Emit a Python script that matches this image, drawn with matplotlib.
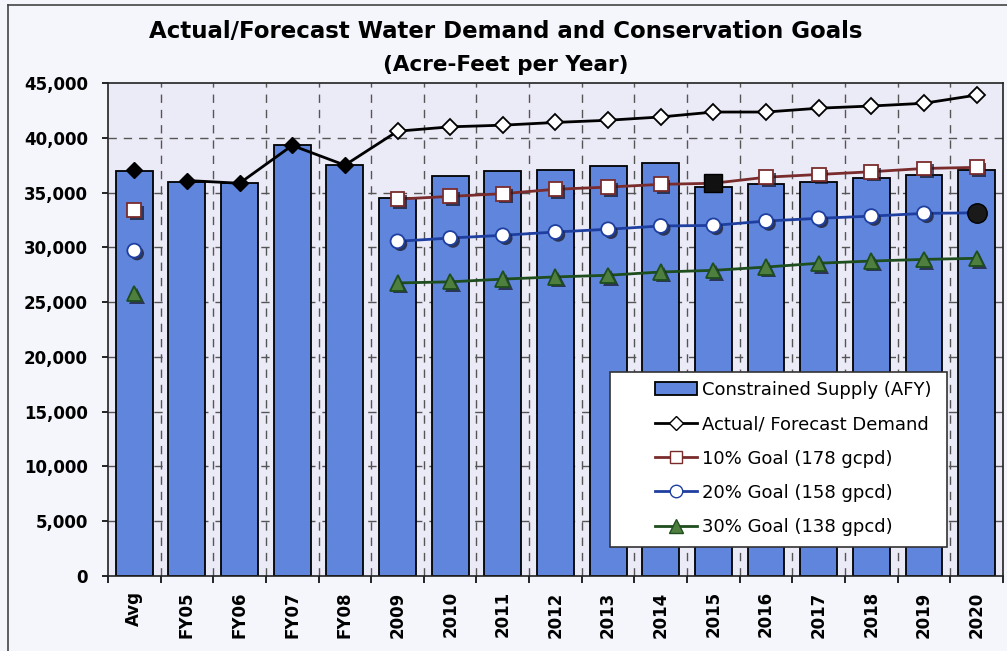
import numpy as np
import matplotlib
matplotlib.use("Agg")
import matplotlib.pyplot as plt
import matplotlib.patheffects as pe
from matplotlib.lines import Line2D
from matplotlib.patches import Patch, Rectangle

categories = ["Avg", "FY05", "FY06", "FY07", "FY08", "2009", "2010", "2011",
              "2012", "2013", "2014", "2015", "2016", "2017", "2018", "2019", "2020"]

supply = [37000, 36000, 35850, 39300, 37500, 34500, 36500, 36950, 37100,
          37400, 37700, 35500, 35750, 35950, 36300, 36600, 37050]

demand = [37100, 36100, 35850, 39300, 37500, 40600, 41000, 41150, 41400,
          41600, 41900, 42350, 42350, 42700, 42900, 43150, 43900]

nan = np.nan
goal10 = [33400, nan, nan, nan, nan, 34400, 34650, 34900, 35300, 35500,
          35750, 35850, 36400, 36650, 36900, 37200, 37300]
goal20 = [29700, nan, nan, nan, nan, 30550, 30850, 31100, 31400, 31650,
          31950, 32000, 32400, 32650, 32850, 33100, 33150]
goal30 = [25800, nan, nan, nan, nan, 26750, 26850, 27100, 27300, 27450,
          27750, 27900, 28200, 28550, 28750, 28900, 29000]

n_actual = 5  # Avg + FY05..FY08 are recorded values

plt.rcParams["font.family"] = ["DejaVu Sans"]

fig = plt.figure(figsize=(10.07, 6.51), dpi=100, facecolor="#f4f6fb")
ax = fig.add_axes([0.1072, 0.1152, 0.8888, 0.7573])
ax.set_facecolor("#ebeaf7")

x = np.arange(len(categories))

# grid behind the bars
for b in np.arange(0.5, len(categories) - 1, 1.0):
    ax.axvline(b, color="#555555", lw=1.0, ls=(0, (6, 5)), zorder=0)
for yv in range(5000, 45000, 5000):
    ax.axhline(yv, color="#555555", lw=1.0, ls=(0, (6, 5)), zorder=0)

bar_color = "#5f86dc"
ax.bar(x, supply, width=0.7, color=bar_color, edgecolor="black", lw=1.3, zorder=2)

shadow = [pe.SimplePatchShadow(offset=(2, -2), shadow_rgbFace="#1a1a2a", alpha=0.75),
          pe.Normal()]

c10, c20, c30 = "#7a2c2c", "#1f3fa0", "#1e4d1e"

# connecting lines (Avg stands alone)
ax.plot(x[1:], demand[1:], color="black", lw=2.0, zorder=4)
ax.plot(x, goal10, color=c10, lw=2.0, zorder=4)
ax.plot(x, goal20, color=c20, lw=2.0, zorder=4)
ax.plot(x, goal30, color=c30, lw=2.0, zorder=4)

# markers
ax.plot(x[:n_actual], demand[:n_actual], ls="none", marker="D", ms=8,
        mfc="black", mec="black", zorder=5)
ax.plot(x[n_actual:], demand[n_actual:], ls="none", marker="D", ms=8,
        mfc="white", mec="black", mew=1.3, zorder=5)
ax.plot(x, goal10, ls="none", marker="s", ms=10, mfc="white",
        mec=c10, mew=1.3, zorder=5, path_effects=shadow)
ax.plot(x, goal20, ls="none", marker="o", ms=10, mfc="white",
        mec=c20, mew=1.3, zorder=5, path_effects=shadow)
ax.plot(x, goal30, ls="none", marker="^", ms=11, mfc="#4f7f3f",
        mec=c30, mew=1.3, zorder=5, path_effects=shadow)
# highlighted points
ax.plot(x[11], goal10[11], marker="s", ms=13, mfc="#111111", mec="black", zorder=6)
ax.plot(x[16], goal20[16], marker="o", ms=14, mfc="#1a1a1a", mec="black", zorder=6)

ax.set_xlim(-0.5, len(categories) - 0.5)
ax.set_ylim(0, 45000)
ax.set_yticks(range(0, 45001, 5000))
ax.set_yticklabels([f"{v:,}" for v in range(0, 45001, 5000)],
                   fontsize=12, fontweight="bold")
ax.set_xticks(x)
ax.set_xticklabels(categories, rotation=90, fontsize=12, fontweight="bold")
ax.tick_params(axis="x", length=0, pad=11)
ax.set_xticks(np.arange(-0.5, len(categories), 1.0), minor=True)
ax.tick_params(axis="x", which="minor", length=5, width=1.2)
ax.tick_params(axis="y", length=4.5, width=1.2, pad=10)
for s in ax.spines.values():
    s.set_color("#222222")
    s.set_linewidth(1.2)

# legend box
ax.add_patch(Rectangle((0.5609, 0.0588), 0.3765, 0.355, transform=ax.transAxes,
                       facecolor="white", edgecolor="#333333", lw=1.2, zorder=9))

handles = [
    Patch(facecolor=bar_color, edgecolor="black", lw=1.3),
    Line2D([], [], color="black", lw=2, marker="D", ms=7, mfc="white", mec="black"),
    Line2D([], [], color=c10, lw=2, marker="s", ms=9, mfc="white", mec=c10),
    Line2D([], [], color=c20, lw=2, marker="o", ms=9, mfc="white", mec=c20),
    Line2D([], [], color=c30, lw=2, marker="^", ms=10, mfc="#4f7f3f", mec=c30),
]
labels = ["Constrained Supply (AFY)", "Actual/ Forecast Demand",
          "10% Goal (178 gcpd)", "20% Goal (158 gpcd)", "30% Goal (138 gpcd)"]
leg = ax.legend(handles, labels, loc="center left", bbox_to_anchor=(0.6112, 0.2383),
                borderaxespad=0, borderpad=0, fontsize=13, labelspacing=0.9,
                handlelength=2.33, handletextpad=0.28, frameon=False)
leg.set_zorder(10)

fig.text(0.5025, 0.951, "Actual/Forecast Water Demand and Conservation Goals",
         ha="center", va="center", fontsize=16.5, fontweight="bold")
fig.text(0.5025, 0.900, "(Acre-Feet per Year)", ha="center", va="center",
         fontsize=15.5, fontweight="bold")

# outer frame edges
fig.add_artist(Line2D([0.008, 0.008], [0.0, 0.992], color="#444444", lw=1.2))
fig.add_artist(Line2D([0.008, 1.0], [0.992, 0.992], color="#444444", lw=1.2))

fig.savefig("out.png", dpi=100, facecolor=fig.get_facecolor())
